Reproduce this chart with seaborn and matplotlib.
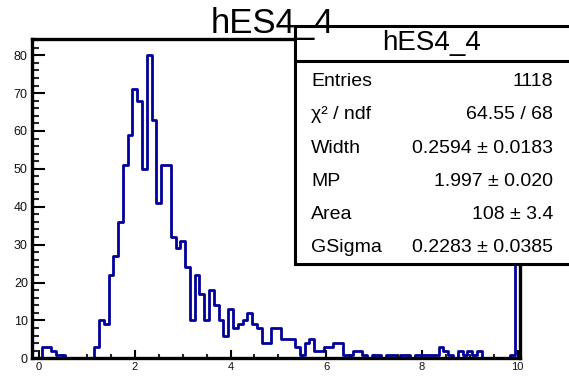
import numpy as np
import pandas as pd
import matplotlib
matplotlib.use("Agg")
import matplotlib.pyplot as plt
import seaborn as sns
from matplotlib.patches import Rectangle
from matplotlib.lines import Line2D
from matplotlib.ticker import MultipleLocator

# ---------------- data ----------------
bin_width = 0.1
bin_range = (-0.15, 10.05)                           # 102 bins of width 0.1
bin_centers = np.round(np.linspace(-0.1, 10.0, 102), 2)
counts = [
    0, 0,
    3, 3, 2, 1, 1, 0, 0, 0, 0, 0,
    0, 3, 10, 9, 22, 27, 36, 51, 59, 71,
    68, 50, 80, 63, 41, 51, 51, 32, 29, 31,
    24, 10, 22, 17, 10, 18, 14, 10, 6, 13,
    8, 9, 10, 12, 9, 8, 4, 4, 8, 8,
    5, 5, 5, 3, 1, 4, 5, 2, 2, 3,
    3, 4, 4, 1, 1, 2, 2, 1, 0, 1,
    1, 0, 1, 1, 0, 1, 1, 0, 1, 1,
    1, 1, 1, 3, 2, 1, 0, 2, 1, 2,
    1, 2, 0, 0, 0, 0, 0, 0, 1, 30,
]
title = "hES4_4"
stat_labels = ["Entries", "χ² / ndf", "Width", "MP", "Area", "GSigma"]
stat_values = ["1118", "64.55 / 68", "0.2594 ± 0.0183", "1.997 ± 0.020",
               "108 ± 3.4", "0.2283 ± 0.0385"]
x_ticks = [0, 2, 4, 6, 8, 10]
y_ticks = [0, 10, 20, 30, 40, 50, 60, 70, 80]

# ---------------- style ----------------
sns.set_theme(style="white")
plt.rcParams["font.family"] = ["Liberation Sans", "DejaVu Sans"]

W, H = 569, 376
fig = plt.figure(figsize=(W / 100, H / 100), dpi=100)
fig.patch.set_facecolor("white")

def fx(px):
    return px / W

def fy(py):
    return 1 - py / H

ax_l, ax_r, ax_t, ax_b = 32, 520, 39.3, 358.3
ax = fig.add_axes([fx(ax_l), fy(ax_b), (ax_r - ax_l) / W, (ax_b - ax_t) / H])
ax.set_facecolor("white")

df = pd.DataFrame({"x": bin_centers, "n": np.asarray(counts, dtype=float)})
sns.histplot(data=df, x="x", weights="n", binwidth=bin_width, binrange=bin_range,
             element="step", fill=False, color="#000099", linewidth=2.0, ax=ax)

ax.set_xlim(*bin_range)
ax.set_ylim(0, 84.2)
ax.set_xlabel("")
ax.set_ylabel("")

for s in ax.spines.values():
    s.set_visible(True)
    s.set_color("black")
    s.set_linewidth(2.4)

ax.set_xticks(x_ticks)
ax.set_xticklabels([str(t) for t in x_ticks])
ax.set_yticks(y_ticks)
ax.set_yticklabels([str(t) for t in y_ticks])
ax.xaxis.set_minor_locator(MultipleLocator(0.5))
ax.yaxis.set_minor_locator(MultipleLocator(2))
ax.tick_params(axis="y", which="major", direction="in", length=9.5, width=1.5,
               labelsize=9, pad=3, left=True, right=False, colors="black")
ax.tick_params(axis="y", which="minor", direction="in", length=5, width=1.5,
               left=True, right=False)
ax.tick_params(axis="x", which="major", direction="in", length=5.5, width=1.5,
               labelsize=8, pad=3, bottom=True, top=False, colors="black")
ax.tick_params(axis="x", which="minor", direction="in", length=3, width=1.5,
               bottom=True, top=False)
for lab in ax.get_xticklabels() + ax.get_yticklabels():
    lab.set_color("#111111")

# ---------------- stats box ----------------
bx_l, bx_r, bx_t, bx_b, bx_sep = 295, 572, 25.7, 263.5, 61
box = Rectangle((fx(bx_l), fy(bx_b)), (bx_r - bx_l) / W, (bx_b - bx_t) / H,
                transform=fig.transFigure, facecolor="white", edgecolor="black",
                linewidth=2.2, zorder=10)
fig.add_artist(box)
fig.add_artist(Line2D([fx(bx_l), fx(bx_r)], [fy(bx_sep), fy(bx_sep)],
                      transform=fig.transFigure, color="black", linewidth=2.2,
                      zorder=11))
fig.text(fx(432), fy(50.5), title, ha="center", va="baseline",
         fontsize=20, color="black", zorder=12)
for i, (lab, val) in enumerate(zip(stat_labels, stat_values)):
    base = 86 + 33.3 * i
    fig.text(fx(311), fy(base), lab, ha="left", va="baseline", fontsize=14,
             color="black", zorder=12)
    fig.text(fx(553), fy(base), val, ha="right", va="baseline", fontsize=14,
             color="black", zorder=12)

# ---------------- title (drawn over the box) ----------------
fig.text(fx(272.5), fy(33.3), title, ha="center", va="baseline", fontsize=25,
         color="black", zorder=20)

fig.savefig("out.png", dpi=100, facecolor="white")
